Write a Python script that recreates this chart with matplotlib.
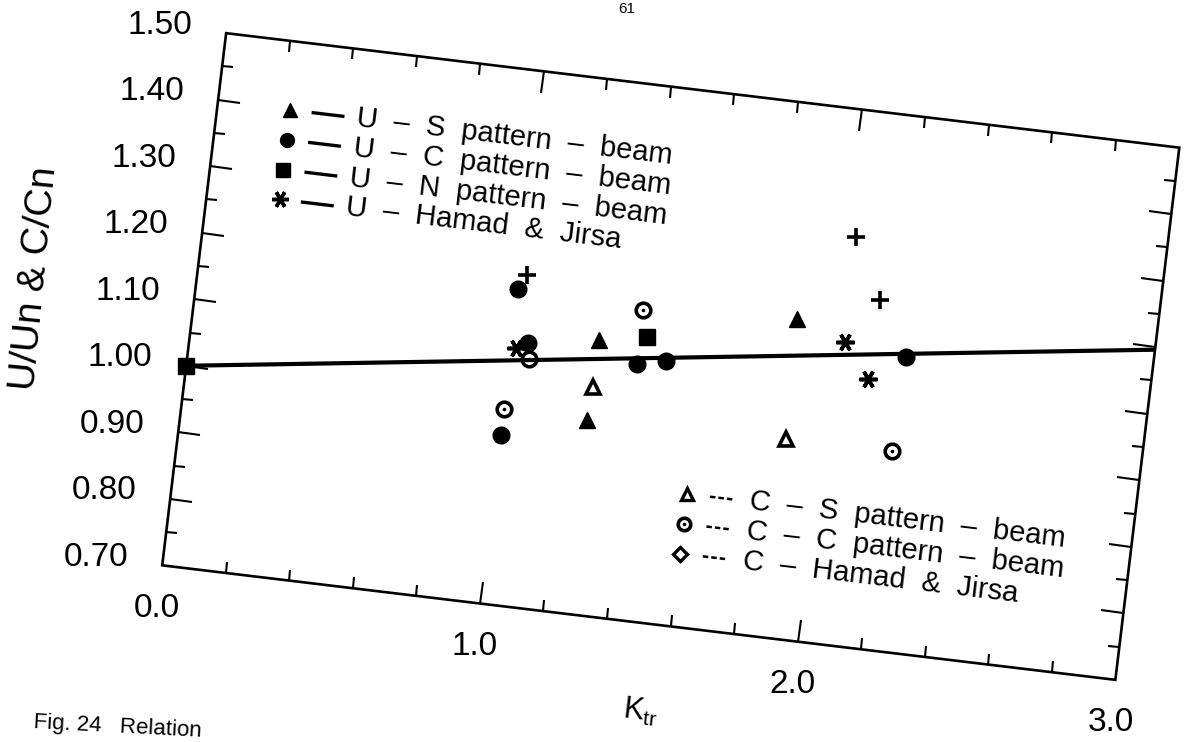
import numpy as np
import matplotlib
matplotlib.use("Agg")
import matplotlib.pyplot as plt
from matplotlib.transforms import Affine2D
from matplotlib.markers import MarkerStyle, TICKLEFT, TICKRIGHT, TICKUP, TICKDOWN
from matplotlib.patches import Polygon

plt.rcParams['font.family'] = ['Liberation Sans', 'DejaVu Sans']
plt.rcParams['mathtext.fontset'] = 'custom'
plt.rcParams['mathtext.rm'] = 'Liberation Sans'
plt.rcParams['mathtext.it'] = 'Liberation Sans'

# ---- data: K_tr and normalised capacity ratios ----
us_k = [1.29, 1.25, 1.91]            # U - S pattern - beam
us_r = [1.029, 0.909, 1.055]
uc_k = [0.98, 1.04, 1.07, 1.41, 1.50, 2.25]   # U - C pattern - beam
uc_r = [0.889, 1.107, 1.026, 0.991, 0.995, 0.996]
un_k = [0.0, 1.44]                    # U - N pattern - beam
un_r = [1.000, 1.031]
uhj_k = [1.03, 2.06, 2.13]            # U - Hamad & Jirsa
uhj_r = [1.018, 1.019, 0.964]
cs_k = [1.27, 1.87]                   # C - S pattern - beam
cs_r = [0.958, 0.876]
cc_k = [0.99, 1.07, 1.43, 2.20]       # C - C pattern - beam
cc_r = [0.928, 1.002, 1.072, 0.856]
chj_k = [1.07, 2.10, 2.17]            # C - Hamad & Jirsa
chj_r = [1.127, 1.175, 1.081]
ref_k = [0.0, 3.2]                    # unity reference line
ref_r = [1.0, 1.0]

x_major = [0.0, 1.0, 2.0, 3.0]
x_labels = ['0.0', '1.0', '2.0', '3.0']
x_long = [1.0, 2.0]
x_short = [0.2, 0.4, 0.6, 0.8, 1.2, 1.4, 1.6, 1.8, 2.2, 2.4, 2.6, 2.8]
y_major = [0.7, 0.8, 0.9, 1.0, 1.1, 1.2, 1.3, 1.4, 1.5]
y_labels = ['0.70', '0.80', '0.90', '1.00', '1.10', '1.20', '1.30', '1.40', '1.50']
y_long = [0.8, 0.9, 1.0, 1.1, 1.2, 1.3, 1.4]
y_short = [0.75, 0.85, 0.95, 1.05, 1.15, 1.25, 1.35, 1.45]

upper_labels = ['U  \u2013  S  pattern  \u2013  beam',
                'U  \u2013  C  pattern  \u2013  beam',
                'U  \u2013  N  pattern  \u2013  beam',
                'U  \u2013  Hamad  &  Jirsa']
lower_labels = ['C  \u2013  S  pattern  \u2013  beam',
                'C  \u2013  C  pattern  \u2013  beam',
                'C  \u2013  Hamad  &  Jirsa']

# ---- figure and tilted frame ----
W, H = 1188, 742
fig = plt.figure(figsize=(W / 100, H / 100), dpi=100)
ANG = -6.85
cx, cy = 670.75, 385.5
bw, bh = 960, 536
ax = fig.add_axes([(cx - bw / 2) / W, (cy - bh / 2) / H, bw / W, bh / H])
ax.set_xlim(0, 3)
ax.set_ylim(0.7, 1.5)
ax.set_axis_off()

rot = Affine2D().rotate_deg_around(cx, cy, ANG)
frame_tr = ax.transData + rot
axes_tr = ax.transAxes + rot
px0, py0 = frame_tr.transform((0.0, 1.0))
data_tr = frame_tr + Affine2D().rotate_deg_around(px0, py0, 7.8)

frame = Polygon([(0, 0), (1, 0), (1, 1), (0, 1)], closed=True, fill=False,
                lw=1.9, edgecolor='k', transform=axes_tr, clip_on=False, zorder=3)
ax.add_patch(frame)

# inward ticks, perpendicular to the tilted frame
def ticks(xs, ys, kind, length):
    m = MarkerStyle(kind, transform=Affine2D().rotate_deg(ANG))
    ax.plot(xs, ys, ls='none', marker=m, ms=length, mew=1.5, color='k',
            transform=frame_tr, clip_on=False, zorder=3)

LONG, SHORT = 15.8, 8.0
ticks([0.0] * len(y_long), y_long, TICKRIGHT, LONG)
ticks([0.0] * len(y_short), y_short, TICKRIGHT, SHORT)
ticks([3.0] * len(y_long), y_long, TICKLEFT, LONG)
ticks([3.0] * len(y_short), y_short, TICKLEFT, SHORT)
ticks(x_long, [0.7] * len(x_long), TICKUP, LONG)
ticks(x_short, [0.7] * len(x_short), TICKUP, SHORT)
ticks(x_long, [1.5] * len(x_long), TICKDOWN, LONG)
ticks(x_short, [1.5] * len(x_short), TICKDOWN, SHORT)

ylab_tr = frame_tr + Affine2D().translate(-34, 8)
for v, s in zip(y_major, y_labels):
    ax.text(0.0, v, s, transform=ylab_tr, ha='right', va='center', fontsize=24)
xlab_tr = frame_tr + Affine2D().translate(-5, -43)
for v, s in zip(x_major, x_labels):
    ax.text(v, 0.7, s, transform=xlab_tr, ha='center', va='center', fontsize=24)

fig.text(35 / W, 464 / H, 'U/Un & C/Cn', rotation=84.5, rotation_mode='anchor',
         ha='center', va='center', fontsize=28)
fig.text(640 / W, 30 / H, r'K$_{\rm tr}$', rotation=ANG, rotation_mode='anchor',
         ha='center', va='center', fontsize=22)
fig.text(627 / W, 740 / H, '61', ha='center', va='top', fontsize=11)
fig.text(33 / W, 14 / H, 'Fig. 24   Relation', rotation=-3, rotation_mode='anchor',
         ha='left', va='baseline', fontsize=16)

# ---- data ----
ref, = ax.plot(ref_k, ref_r, color='k', lw=3.0, transform=data_tr, zorder=4)
ref.set_clip_path(frame)
ref.set_clip_box(None)

def pts(k, r, tr, **kw):
    ax.plot(k, r, ls='none', color='k', transform=tr, clip_on=False, zorder=5, **kw)

def cc_pts(k, r, tr, ms=10.5):
    pts(k, r, tr, marker='o', ms=ms, mfc='none', mec='k', mew=2.6)
    pts(k, r, tr, marker='o', ms=2.6, mew=0)

star = MarkerStyle((6, 2, 90))
pts(us_k, us_r, data_tr, marker='^', ms=11)
pts(uc_k, uc_r, data_tr, marker='o', ms=12)
pts(un_k, un_r, data_tr, marker='s', ms=12)
pts(uhj_k, uhj_r, data_tr, marker=star, ms=13, mew=2.6)
pts(cs_k, cs_r, data_tr, marker='^', ms=10, mfc='white', mew=2.6)
cc_pts(cc_k, cc_r, data_tr)
pts(chj_k, chj_r, data_tr, marker='+', ms=13, mew=2.6)

# ---- keys drawn inside the tilted frame ----
up_fx, up_fy, step = 0.076, 0.872, 0.056
up_styles = [dict(marker='^', ms=10), dict(marker='o', ms=10),
             dict(marker='s', ms=10), dict(marker=star, ms=12, mew=2.5)]
for i, (lab, st) in enumerate(zip(upper_labels, up_styles)):
    fy = up_fy - i * step
    pts([up_fx], [fy], axes_tr, **st)
    ax.plot([0.100, 0.131], [fy, fy], color='k', lw=2.4, transform=axes_tr, clip_on=False)
    ax.text(0.146, fy, lab, transform=axes_tr, rotation=ANG, rotation_mode='anchor',
            ha='left', va='center', fontsize=21)

lo_fx, lo_fy = 0.534, 0.249
for i, lab in enumerate(lower_labels):
    fy = lo_fy - i * step
    if i == 0:
        pts([lo_fx], [fy], axes_tr, marker='^', ms=9, mfc='white', mew=2.4)
    elif i == 1:
        cc_pts([lo_fx], [fy], axes_tr, ms=9)
    else:
        pts([lo_fx], [fy], axes_tr, marker='D', ms=7, mfc='white', mew=2.4)
    ax.plot([0.558, 0.584], [fy, fy], color='k', lw=1.8, ls=(0, (2.2, 1.2)),
            transform=axes_tr, clip_on=False)
    ax.text(0.600, fy, lab, transform=axes_tr, rotation=ANG, rotation_mode='anchor',
            ha='left', va='center', fontsize=21)

fig.savefig('out.png', dpi=100)
